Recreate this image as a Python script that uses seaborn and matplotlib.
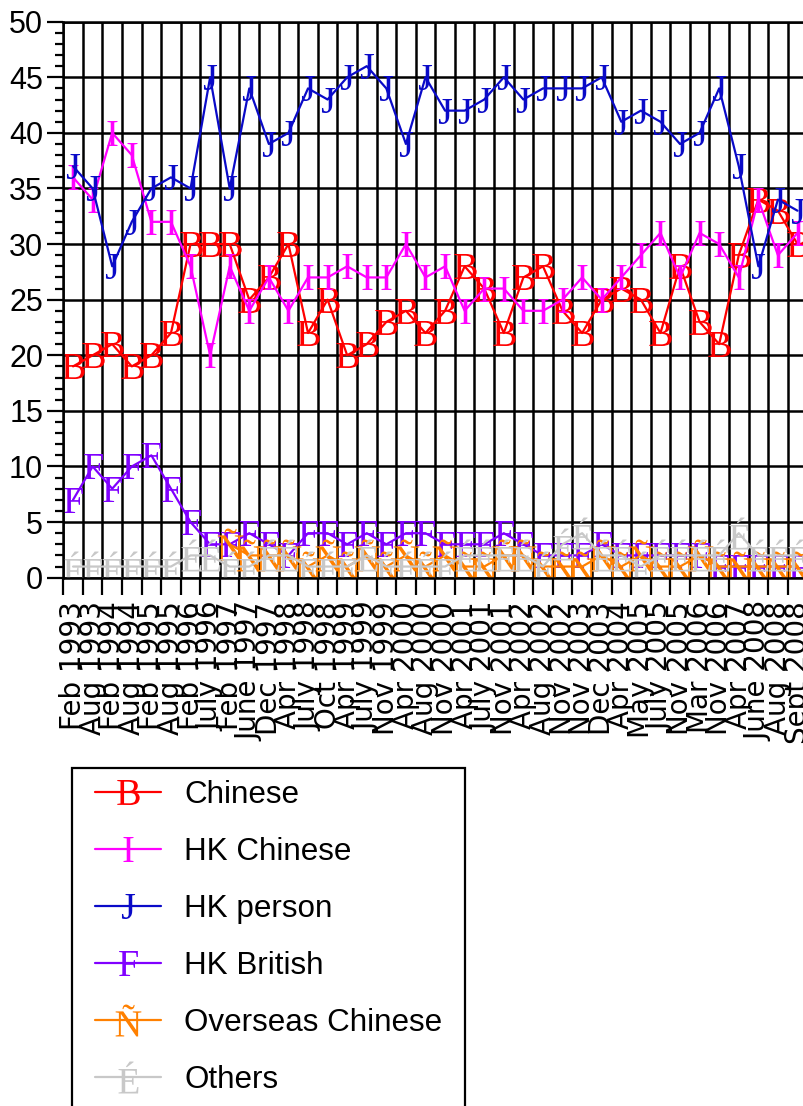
import numpy as np
import pandas as pd
import matplotlib
matplotlib.use("Agg")
import matplotlib.pyplot as plt
import seaborn as sns
from matplotlib.patches import Rectangle
from matplotlib.ticker import FixedLocator, MultipleLocator, NullFormatter

# === Dati (%) ===
dates = ["Feb 1993", "Aug 1993", "Feb 1994", "Aug 1994", "Feb 1995", "Aug 1995",
         "Feb 1996", "July 1996", "Feb 1997", "June 1997", "Dec 1997", "Apr 1998",
         "July 1998", "Oct 1998", "Apr 1999", "July 1999", "Nov 1999", "Apr 2000",
         "Aug 2000", "Nov 2000", "Apr 2001", "July 2001", "Nov 2001", "Apr 2002",
         "Aug 2002", "Nov 2002", "Nov 2003", "Dec 2003", "Apr 2004", "May 2005",
         "July 2005", "Nov 2005", "Mar 2006", "Nov 2006", "Apr 2007", "June 2008",
         "Aug 2008", "Sept 2008"]

chinese = [19, 20, 21, 19, 20, 22, 30, 30, 30, 25, 27, 30, 22, 25, 20, 21, 23, 24, 22, 24,
           28, 26, 22, 27, 28, 24, 22, 25, 26, 25, 22, 28, 23, 21, 29, 34, 33, 30]
hk_chinese = [36, 34, 40, 38, 32, 32, 28, 20, 28, 24, 27, 24, 27, 27, 28, 27, 27, 30, 27, 28,
              24, 26, 26, 24, 24, 25, 27, 25, 27, 29, 31, 27, 31, 30, 27, 34, 29, 31]
hk_person = [37, 35, 28, 32, 35, 36, 35, 45, 35, 44, 39, 40, 44, 43, 45, 46, 44, 39, 45, 42,
             42, 43, 45, 43, 44, 44, 44, 45, 41, 42, 41, 39, 40, 44, 37, 28, 34, 33]
hk_british = [7, 10, 8, 10, 11, 8, 5, 3, 3, 4, 3, 2, 4, 4, 3, 4, 3, 4, 4, 3,
              3, 3, 4, 3, 2, 2, 2, 3, 2, 2, 2, 2, 2, 1, 1, 1, 1, 1]
overseas = [np.nan] * 8 + [3, 2, 2, 2, 1, 2, 1, 2, 1, 2, 1, 2, 1, 1, 2,
                           2, 1, 1, 1, 2, 1, 2, 1, 1, 2, 1, 1, 1, 1, 1]
others = [1, 1, 1, 1, 1, 1, 2, 2, 1, 1, 2, 2, 1, 1, 1, 2, 1, 1, 1, 1,
          2, 2, 2, 2, 1, 3, 4, 2, 2, 1, 2, 2, 2, 2, 4, 2, 2, 2]

names = ["Chinese", "HK Chinese", "HK person", "HK British", "Overseas Chinese", "Others"]
colors = ["#FF0000", "#FF00FF", "#0A0AC8", "#8000FF", "#FF8000", "#C8C8C8"]
markers = [r"$\mathrm{B}$", r"$\mathrm{I}$", r"$\mathrm{J}$", r"$\mathrm{F}$",
           r"$\mathrm{Ñ}$", r"$\mathrm{É}$"]
# le lettere accentate sono più alte: marker un po' più grandi
msizes = {m: (23 if m in markers[4:] else 18) for m in markers}

rows = []
for name, vals in zip(names, [chinese, hk_chinese, hk_person, hk_british, overseas, others]):
    for i, v in enumerate(vals):
        rows.append({"idx": i, "value": v, "series": name})
df = pd.DataFrame(rows).dropna()

# === Stile ===
sns.set_style("ticks")
plt.rcParams["font.family"] = ["Liberation Sans", "DejaVu Sans"]
plt.rcParams["mathtext.fontset"] = "custom"
plt.rcParams["mathtext.rm"] = "Liberation Serif"
plt.rcParams["mathtext.it"] = "Liberation Serif:italic"
for k in ["text.color", "axes.labelcolor", "xtick.color", "ytick.color", "axes.edgecolor"]:
    plt.rcParams[k] = "black"

fig = plt.figure(figsize=(8.04, 11.06), dpi=100)
ax = fig.add_axes([0.0787, 0.4777, 0.9254, 0.5027])

sns.lineplot(data=df, x="idx", y="value", hue="series", style="series",
             hue_order=names, style_order=names, palette=dict(zip(names, colors)),
             markers=dict(zip(names, markers)), dashes=False, estimator=None,
             sort=False, linewidth=1.6, markersize=18, markeredgewidth=0, ax=ax)
for ln in ax.lines:
    if ln.get_marker() in msizes:
        ln.set_markersize(msizes[ln.get_marker()])

# === Assi ===
ax.set_xlim(-0.5, 37.5)
ax.set_ylim(0, 50)
ax.xaxis.set_major_locator(FixedLocator(np.arange(-0.5, 38, 1)))
ax.xaxis.set_major_formatter(NullFormatter())
ax.set_xticks(range(len(dates)), labels=dates, minor=True, rotation=90,
              family="DejaVu Sans")
ax.tick_params(axis="x", which="minor", length=0, pad=17, labelsize=20)
ax.tick_params(axis="x", which="major", length=12, width=1.6, direction="out")
ax.set_yticks(range(0, 51, 5))
ax.yaxis.set_minor_locator(MultipleLocator(1))
ax.tick_params(axis="y", which="major", length=11.5, width=1.6, labelsize=22, pad=3)
ax.tick_params(axis="y", which="minor", length=6, width=1.6)
ax.grid(True, which="major", color="black", linewidth=1.8)
ax.set_axisbelow(True)
ax.set_xlabel("")
ax.set_ylabel("")
for side in ["left", "bottom", "top"]:
    ax.spines[side].set_linewidth(1.8)
ax.spines["right"].set_visible(False)

# === Legenda (cornice disegnata a parte, tagliata dal bordo inferiore) ===
handles, labels = ax.get_legend_handles_labels()
ax.get_legend().remove()
for h in handles:
    h.set_markersize(msizes.get(h.get_marker(), 18))
    h.set_markeredgewidth(0)
    h.set_linewidth(1.6)
fig.legend(handles, labels, loc="upper left", bbox_to_anchor=(95 / 804, 1 - 780 / 1106),
           bbox_transform=fig.transFigure, borderaxespad=0, borderpad=0, fontsize=22.6,
           frameon=False, handlelength=2.1, handletextpad=0.75, labelspacing=0.86)
fig.patches.append(Rectangle((72 / 804, -0.05), (465 - 72) / 804, 1 - 768 / 1106 + 0.05,
                             transform=fig.transFigure, fill=False, edgecolor="black",
                             linewidth=1.6, figure=fig))

fig.savefig("out.png", dpi=100)
